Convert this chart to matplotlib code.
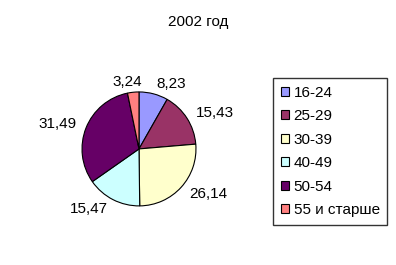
import matplotlib.pyplot as plt

plt.rcParams['font.family'] = ['Liberation Sans', 'DejaVu Sans']

groups = ['16-24', '25-29', '30-39', '40-49', '50-54', '55 и старше']
values = [8.23, 15.43, 26.14, 15.47, 31.49, 3.24]
colors = ['#9999FF', '#993366', '#FFFFCC', '#CCFFFF', '#660066', '#FF8080']

fig = plt.figure(figsize=(3.96, 2.65), dpi=100)
ax = fig.add_axes([0.207, 0.223, 0.288, 0.430])

wedges, texts = ax.pie(
    values,
    colors=colors,
    labels=[f"{v:.2f}".replace('.', ',') for v in values],
    labeldistance=1.18,
    startangle=90,
    counterclock=False,
    wedgeprops=dict(edgecolor='black', linewidth=0.8),
    textprops=dict(fontsize=11),
)
# небольшая подвижка подписи маленького сектора
texts[-1].set_x(texts[-1].get_position()[0] + 0.17)
ax.set_xlim(-1, 1)
ax.set_ylim(-1, 1)
ax.set_aspect('equal')

fig.text(0.5, 1 - 22 / 265, '2002 год', ha='center', va='center', fontsize=11)

leg = fig.legend(
    wedges, groups,
    loc='upper left',
    bbox_to_anchor=(273 / 396, 1 - 78 / 265),
    frameon=True, fancybox=False, shadow=False,
    fontsize=11,
    handlelength=0.52, handleheight=0.52, handletextpad=0.33,
    labelspacing=0.62, borderpad=0.5, borderaxespad=0,
)
leg.get_frame().set_edgecolor('black')
leg.get_frame().set_linewidth(1.0)
for h in leg.legend_handles:
    h.set_linewidth(0.8)

plt.savefig('out.png', dpi=100)
